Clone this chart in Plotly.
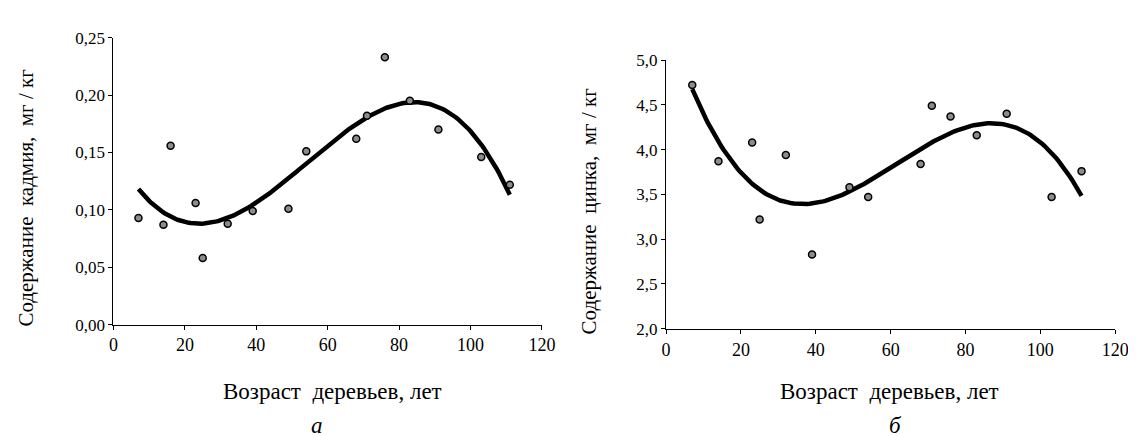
import numpy as np
import plotly.graph_objects as go

# Data
age_cd = [7, 14, 16, 23, 25, 32, 39, 49, 54, 68, 71, 76, 83, 91, 103, 111]
cd = [0.093, 0.087, 0.156, 0.106, 0.058, 0.088, 0.099, 0.101, 0.151, 0.162,
      0.182, 0.233, 0.195, 0.170, 0.146, 0.122]

age_zn = [7, 14, 23, 25, 32, 39, 49, 54, 68, 71, 76, 83, 91, 103, 111]
zn = [4.72, 3.87, 4.08, 3.22, 3.94, 2.83, 3.58, 3.47, 3.84, 4.49, 4.37,
      4.16, 4.40, 3.47, 3.76]

x_ticks = [0, 20, 40, 60, 80, 100, 120]
x_label = "Возраст  деревьев, лет"
y_label_cd = "Содержание  кадмия,  мг / кг"
y_label_zn = "Содержание  цинка,  мг / кг"
panel_labels = ["а", "б"]

FONT = "Liberation Serif, Times New Roman, serif"


def trend(x, y):
    c = np.polyfit(x, y, 3)
    xs = np.linspace(min(x), max(x), 200)
    return xs, np.polyval(c, xs)


fig = go.Figure()

for i, (xv, yv) in enumerate([(age_cd, cd), (age_zn, zn)]):
    xa = "x" if i == 0 else "x2"
    ya = "y" if i == 0 else "y2"
    tx, ty = trend(xv, yv)
    fig.add_trace(go.Scatter(x=tx, y=ty, mode="lines", xaxis=xa, yaxis=ya,
                             line=dict(color="black", width=4.5), showlegend=False))
    fig.add_trace(go.Scatter(x=xv, y=yv, mode="markers", xaxis=xa, yaxis=ya,
                             marker=dict(size=7, color="#8c8c8c",
                                         line=dict(color="black", width=1.5)),
                             showlegend=False))


def axis_common(size):
    return dict(showline=True, linecolor="black", linewidth=1.3, ticks="outside",
                ticklen=4, tickcolor="black", showgrid=False, zeroline=False,
                tickfont=dict(family=FONT, size=size, color="black"))


W, H = 1136, 436
fig.update_layout(
    width=W, height=H,
    margin=dict(l=0, r=0, t=0, b=0),
    paper_bgcolor="white", plot_bgcolor="white",
    separators=", ",
    xaxis=dict(domain=[103 / W, 538 / W], range=[0, 120], tickvals=x_ticks,
               anchor="y", **axis_common(18)),
    yaxis=dict(domain=[1 - 321.7 / H, 1 - 21.7 / H], range=[0, 0.25], dtick=0.05,
               tickformat=".2f", anchor="x", **axis_common(17)),
    xaxis2=dict(domain=[664 / W, 1120 / W], range=[0, 120], tickvals=x_ticks,
                anchor="y2", **axis_common(18)),
    yaxis2=dict(domain=[1 - 326 / H, 1 - 45 / H], range=[2, 5], dtick=0.5,
                tickformat=".1f", anchor="x2", **axis_common(17)),
)

ann = []
xfont = dict(family=FONT, size=23, color="black")
yfont = dict(family=FONT, size=21, color="black")
for xl, xp, cy_title, ylab, ytx, plab in [(325, 310, 189, y_label_cd, 14, panel_labels[0]),
                                          (891, 897, 203, y_label_zn, 586, panel_labels[1])]:
    ann.append(dict(x=xl / W, y=1 - 392 / H, xref="paper", yref="paper",
                    xanchor="center", yanchor="middle",
                    text=x_label, showarrow=False, font=xfont))
    ann.append(dict(x=xp / W, y=1 - 427 / H, xref="paper", yref="paper",
                    xanchor="center", yanchor="middle",
                    text="<i>" + plab + "</i>", showarrow=False, font=xfont))
    ann.append(dict(x=ytx / W, y=1 - cy_title / H, xref="paper", yref="paper",
                    xanchor="center", yanchor="middle",
                    text=ylab, showarrow=False, textangle=-90, font=yfont))
fig.update_layout(annotations=ann)

fig.write_html("out.html")
